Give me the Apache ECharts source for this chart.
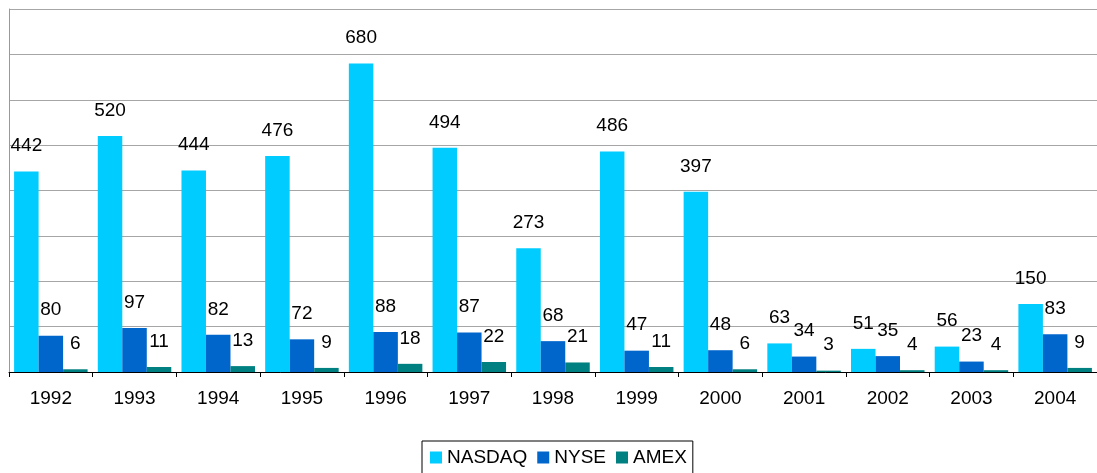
<!DOCTYPE html>
<html>
<head>
<meta charset="utf-8">
<script src="https://cdn.jsdelivr.net/npm/echarts@6/dist/echarts.min.js"></script>
<style>
html,body{margin:0;padding:0;background:#fff;}
#c{width:1097px;height:473px;}
</style>
</head>
<body>
<div id="c"></div>
<script>
const years = ['1992','1993','1994','1995','1996','1997','1998','1999','2000','2001','2002','2003','2004'];
const nasdaq = [442,520,444,476,680,494,273,486,397,63,51,56,150];
const nyse = [80,97,82,72,88,87,68,47,48,34,35,23,83];
const amex = [6,11,13,9,18,22,21,11,6,3,4,4,9];
const seriesNames = ['NASDAQ','NYSE','AMEX'];
const colors = ['#00CCFF','#0066CC','#008080'];

const font = '"Liberation Sans", Arial, sans-serif';
const chart = echarts.init(document.getElementById('c'), null, {renderer:'canvas'});
const label = {show:true, position:'top', distance:15, color:'#000', fontSize:19, fontFamily:font, lineHeight:21};
const mk = (name, data, i) => ({
  name, type:'bar', data, barWidth:24.5, barGap:'0%',
  itemStyle:{color:colors[i]}, label, animation:false
});
chart.setOption({
  animation:false,
  grid:{left:9, right:-4, top:9, bottom:101},
  legend:{
    data:seriesNames, left:422, top:441,
    itemWidth:12, itemHeight:12, itemGap:10,
    icon:'rect',
    borderColor:'#000', borderWidth:1, borderRadius:0,
    padding:[7,6,20,8],
    textStyle:{fontSize:19, fontFamily:font, color:'#000'}
  },
  xAxis:{
    type:'category', data:years,
    axisLine:{lineStyle:{color:'#000', width:1}},
    axisTick:{show:true, length:5, lineStyle:{color:'#000'}},
    axisLabel:{color:'#000', fontSize:19, fontFamily:font, margin:16, lineHeight:21}
  },
  yAxis:{
    type:'value', min:0, max:800, interval:100,
    axisLine:{show:true, lineStyle:{color:'#999'}},
    axisTick:{show:false},
    axisLabel:{show:false},
    splitLine:{lineStyle:{color:'#a6a6a6', width:1}}
  },
  series:[mk('NASDAQ',nasdaq,0), mk('NYSE',nyse,1), mk('AMEX',amex,2)]
});
</script>
</body>
</html>
